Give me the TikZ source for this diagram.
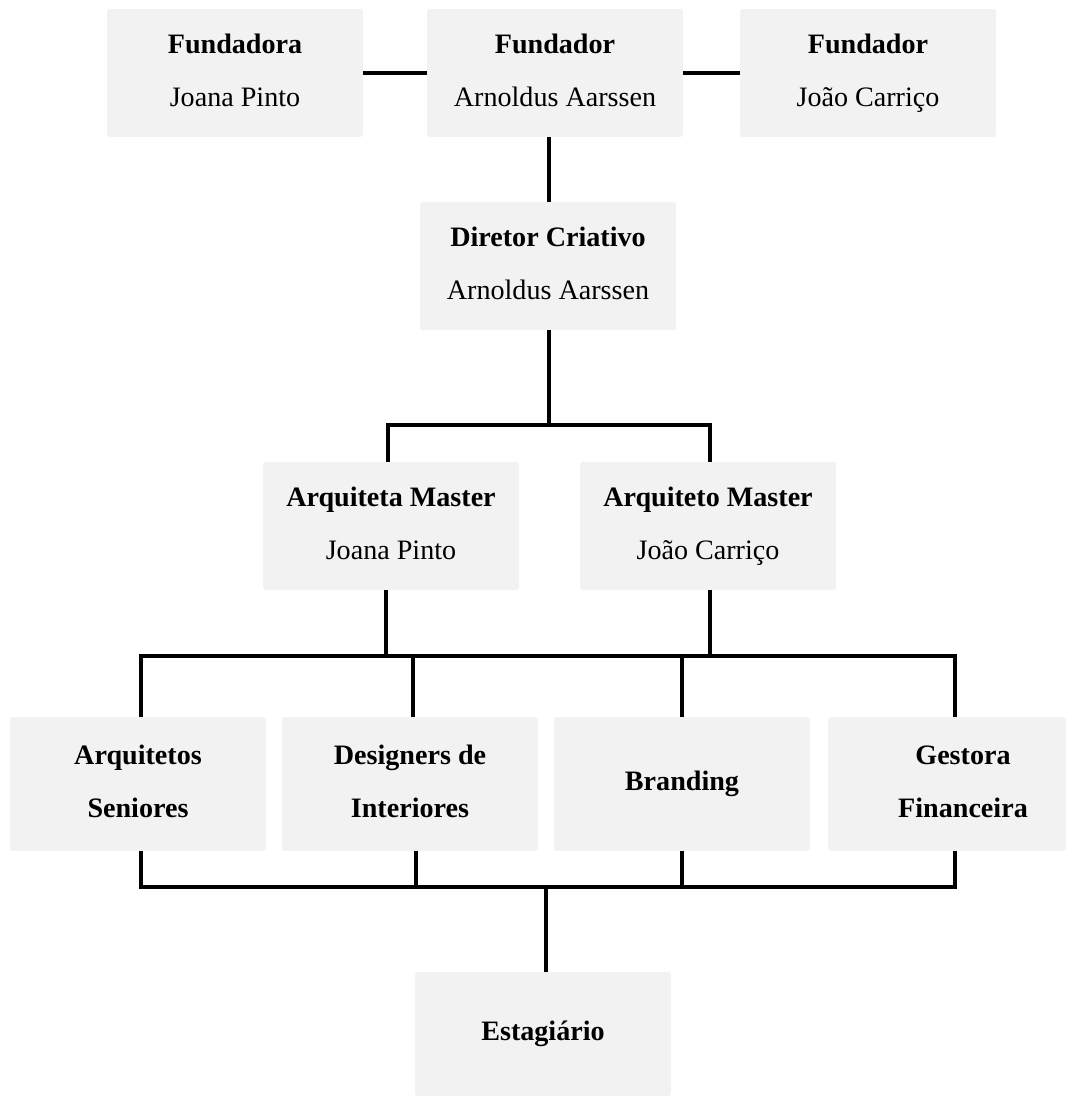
\documentclass[tikz,border=0pt]{standalone}
\usepackage{fontspec}
\setmainfont{Liberation Serif}
\definecolor{boxgray}{RGB}{242,242,242}
\newcommand{\duo}[2]{\strut\textbf{#1}\\[11pt]\strut #2}
\tikzset{
  role/.style={fill=boxgray, rounded corners=1.5pt, align=center,
    minimum width=5.12cm, minimum height=2.56cm, inner sep=0pt,
    font=\fontsize{16}{19}\selectfont},
  staff/.style={role, minimum height=2.68cm},
  link/.style={line width=1.9pt}
}
\begin{document}
\begin{tikzpicture}[x=0.02cm, y=-0.02cm]
    \useasboundingbox (0,0) rectangle (1077,1096);
    % founders
    \node[role] (fa) at (235,73) {\duo{Fundadora}{Joana Pinto}};
    \node[role] (fb) at (555,73) {\duo{Fundador}{Arnoldus Aarssen}};
    \node[role] (fc) at (868,73) {\duo{Fundador}{João Carriço}};
    \node[role] (dc) at (548,266) {\duo{Diretor Criativo}{Arnoldus Aarssen}};
    % masters
    \node[role] (am) at (391,526) {\duo{Arquiteta Master}{Joana Pinto}};
    \node[role] (om) at (708,526) {\duo{Arquiteto Master}{João Carriço}};
    % teams
    \node[staff] (as) at (138,784) {\duo{Arquitetos}{\textbf{Seniores}}};
    \node[staff] (di) at (410,784) {\duo{Designers de}{\textbf{Interiores}}};
    \node[staff] (br) at (682,784) {\textbf{Branding}};
    \node[staff, minimum width=4.76cm] (gf) at (947,784)
      {\duo{\hspace*{0.64cm}Gestora}{\hspace*{0.64cm}\textbf{Financeira}}};
    \node[role, minimum height=2.48cm] (es) at (543,1034) {\textbf{Estagiário}};
    \coordinate (j1) at (549,425);
    \coordinate (j2) at (549,656);
    \coordinate (j3) at (546,887);

    \draw[link] (fa.east) -- (fb.west);
    \draw[link] (fb.east) -- (fc.west);
    \draw[link] (j1 |- dc.north) -- (j1 |- fb.south);
    \draw[link] (j1 |- dc.south) -- (j1);
    \draw[link] ([xshift=-0.06cm]am.north) |- (j1) -| ([xshift=0.04cm]om.north);
    \draw[link] ([xshift=-0.1cm]am.south) -- ([xshift=-0.1cm]am.south |- j2);
    \draw[link] ([xshift=0.04cm]om.south) -- ([xshift=0.04cm]om.south |- j2);
    \draw[link] ([xshift=0.06cm]as.north) |- (j2) -| ([xshift=0.16cm]gf.north);
    \draw[link] ([xshift=0.06cm]di.north) -- ([xshift=0.06cm]di.north |- j2);
    \draw[link] (br.north) -- (br.north |- j2);
    \draw[link] ([xshift=0.06cm]as.south) |- (j3) -| ([xshift=0.16cm]gf.south);
    \draw[link] ([xshift=0.12cm]di.south) -- ([xshift=0.12cm]di.south |- j3);
    \draw[link] (br.south) -- (br.south |- j3);
    \draw[link] (j3 |- es.north) -- (j3);
\end{tikzpicture}
\end{document}
